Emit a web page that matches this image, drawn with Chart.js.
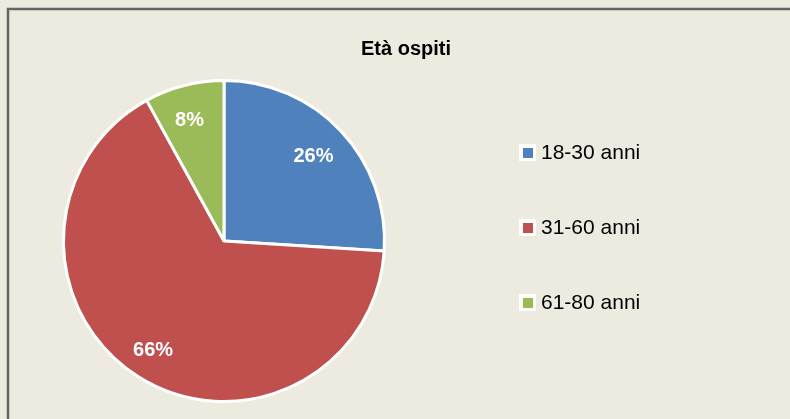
<!DOCTYPE html>
<html>
<head>
<meta charset="utf-8">
<script src="https://cdn.jsdelivr.net/npm/chart.js@4"></script>
<style>
  html, body { margin: 0; padding: 0; background: #EDEADF; }
  #wrap { width: 790px; height: 419px; }
</style>
</head>
<body>
<div id="wrap"><canvas id="ageChart" width="790" height="419"></canvas></div>
<script>
const title = "Età ospiti";
const categories = ["18-30 anni", "31-60 anni", "61-80 anni"];
const values = [26, 66, 8];
const colors = ["#4F81BD", "#C0504D", "#9BBB59"];

// background + grey frame
const frame = {
  id: "frame",
  beforeDraw(chart) {
    const ctx = chart.ctx;
    ctx.save();
    ctx.fillStyle = "#EDEADF";
    ctx.fillRect(0, 0, chart.width, chart.height);
    ctx.strokeStyle = "#666666";
    ctx.lineWidth = 2.5;
    ctx.strokeRect(8, 9, chart.width + 20, chart.height + 20);
    ctx.restore();
  }
};

// title, percentage labels and legend
const extras = {
  id: "extras",
  afterDatasetsDraw(chart) {
    const ctx = chart.ctx;
    ctx.save();
    ctx.fillStyle = "#000";
    ctx.font = "bold 20px 'Liberation Sans', Arial, sans-serif";
    ctx.textAlign = "center";
    ctx.textBaseline = "middle";
    ctx.fillText(title, 406, 49);

    const meta = chart.getDatasetMeta(0);
    const total = values.reduce((a, b) => a + b, 0);
    ctx.fillStyle = "#fff";
    meta.data.forEach((arc, i) => {
      const p = arc.getProps(["x", "y", "startAngle", "endAngle", "outerRadius"], true);
      const mid = (p.startAngle + p.endAngle) / 2;
      const r = p.outerRadius * 0.79;
      const pct = Math.round(values[i] / total * 100) + "%";
      ctx.fillText(pct, p.x + Math.cos(mid) * r - 3, p.y + Math.sin(mid) * r + 2);
    });

    ctx.textAlign = "left";
    ctx.font = "21px 'Liberation Sans', Arial, sans-serif";
    categories.forEach((c, i) => {
      const y = 152 + i * 75;
      ctx.fillStyle = "#fff";
      ctx.fillRect(519, y - 8, 17, 17);
      ctx.fillStyle = colors[i];
      ctx.fillRect(523, y - 4, 10, 10);
      ctx.fillStyle = "#000";
      ctx.fillText(c, 541, y + 1);
    });
    ctx.restore();
  }
};

new Chart(document.getElementById("ageChart"), {
  type: "pie",
  data: {
    labels: categories,
    datasets: [{
      data: values,
      backgroundColor: colors,
      borderColor: "#fff",
      borderWidth: 3
    }]
  },
  options: {
    responsive: false,
    animation: false,
    layout: { padding: { left: 62, right: 404, top: 79, bottom: 16 } },
    plugins: {
      legend: { display: false },
      title: { display: false },
      tooltip: { enabled: false }
    }
  },
  plugins: [frame, extras]
});
</script>
</body>
</html>
